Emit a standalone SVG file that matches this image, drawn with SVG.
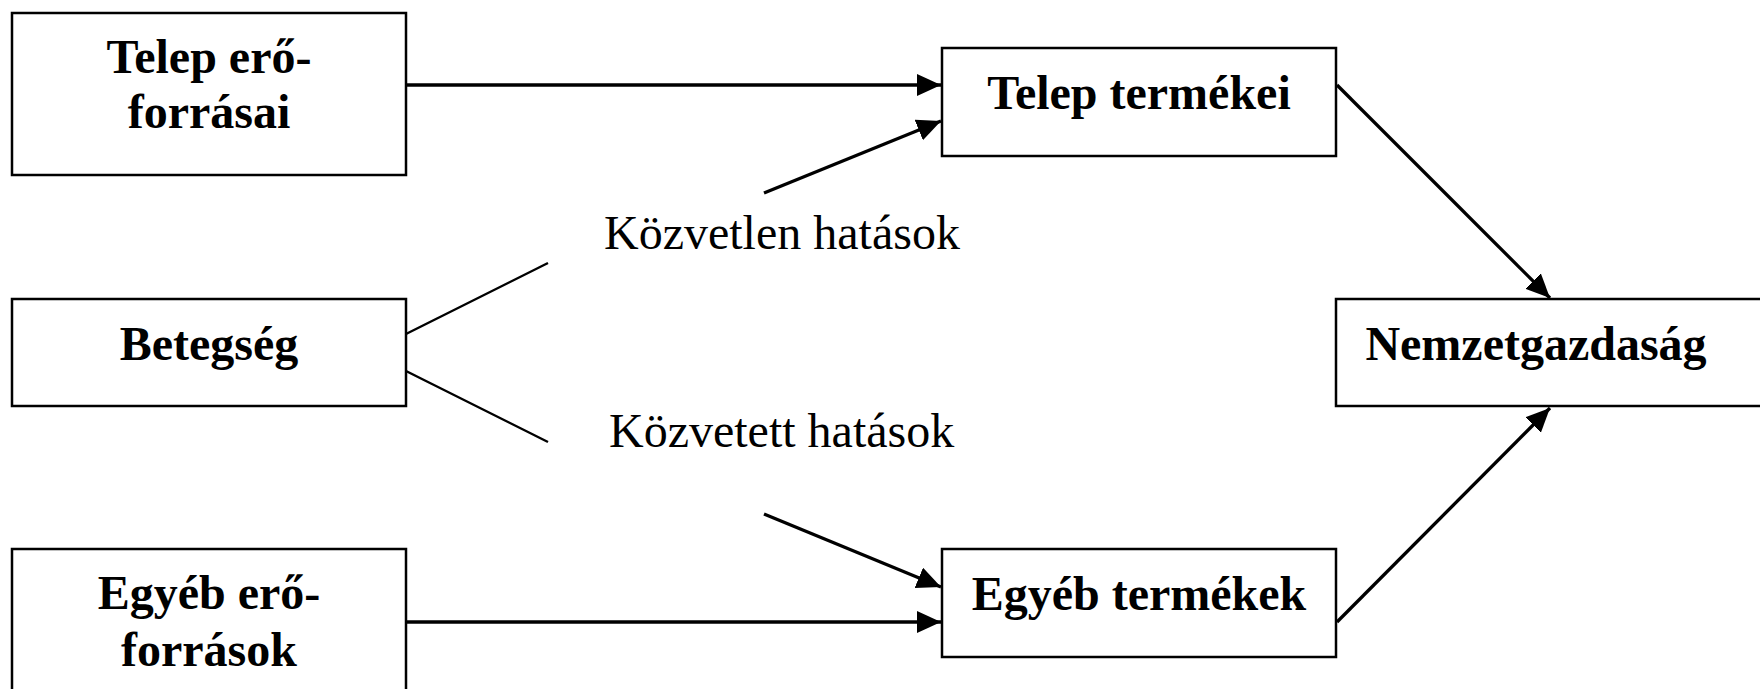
<svg xmlns="http://www.w3.org/2000/svg" width="1760" height="689" viewBox="0 0 1760 689">
<style>
.box{fill:#fff;stroke:#000;stroke-width:2.5}
.bt{font-family:"Liberation Serif","Times New Roman",serif;font-weight:bold;font-size:48px;fill:#000;text-anchor:middle}
.rt{font-family:"Liberation Serif","Times New Roman",serif;font-size:48px;fill:#000}
.arr{stroke:#000;stroke-width:3.3;fill:none;marker-end:url(#ah)}
.ln{stroke:#000;stroke-width:2.4;fill:none}
</style>
<defs>
<marker id="ah" markerUnits="userSpaceOnUse" markerWidth="26" markerHeight="24" refX="24" refY="11" orient="auto">
<path d="M0,0 L24,11 L0,22 Z" fill="#000"/>
</marker>
</defs>
<rect width="1760" height="689" fill="#fff"/>
<g id="connectors">
<line class="arr" x1="406" y1="85" x2="941" y2="85"/>
<line class="arr" x1="764" y1="193" x2="941" y2="121"/>
<line class="arr" x1="764" y1="514" x2="941" y2="587"/>
<line class="arr" x1="406" y1="622" x2="941" y2="622"/>
<line class="arr" x1="1337" y1="85" x2="1550" y2="298"/>
<line class="arr" x1="1337" y1="622" x2="1550" y2="408"/>
<line class="ln" x1="406" y1="334" x2="548" y2="263"/>
<line class="ln" x1="406" y1="371" x2="548" y2="442"/>
</g>
<g id="telep-eroforrasai">
<rect class="box" x="12" y="13" width="394" height="162"/>
<text class="bt" x="209" y="73">Telep erő-</text>
<text class="bt" x="209" y="128">forrásai</text>
</g>
<g id="betegseg">
<rect class="box" x="12" y="299" width="394" height="107"/>
<text class="bt" x="209" y="360">Betegség</text>
</g>
<g id="egyeb-eroforrasok">
<rect class="box" x="12" y="549" width="394" height="160"/>
<text class="bt" x="209" y="609">Egyéb erő-</text>
<text class="bt" x="209" y="666">források</text>
</g>
<g id="telep-termekei">
<rect class="box" x="942" y="48" width="394" height="108"/>
<text class="bt" x="1139" y="109">Telep termékei</text>
</g>
<g id="egyeb-termekek">
<rect class="box" x="942" y="549" width="394" height="108"/>
<text class="bt" x="1139" y="610">Egyéb termékek</text>
</g>
<g id="nemzetgazdasag">
<rect class="box" x="1336" y="299" width="440" height="107"/>
<text class="bt" x="1536" y="360">Nemzetgazdaság</text>
</g>
<g id="labels">
<text class="rt" x="604" y="249">Közvetlen hatások</text>
<text class="rt" x="609" y="447">Közvetett hatások</text>
</g>
</svg>
